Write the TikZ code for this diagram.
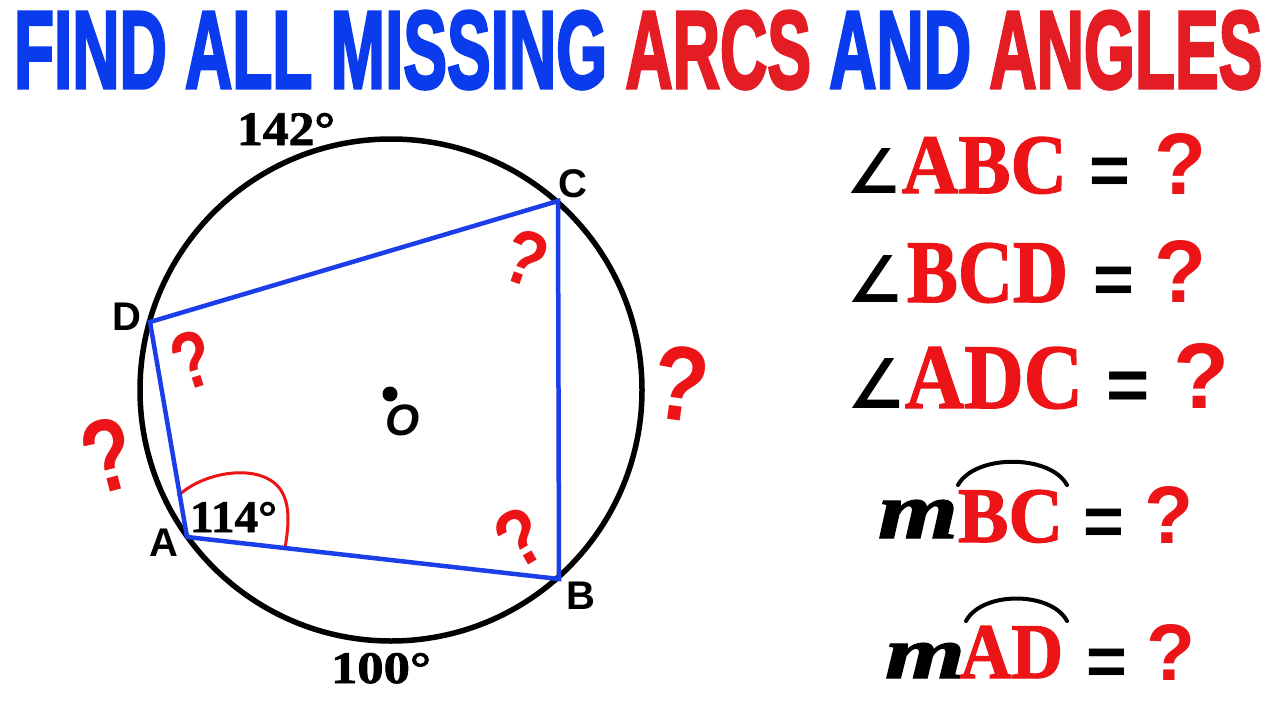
\documentclass[tikz,border=0pt]{standalone}
\usepackage{fontspec}
\usepackage{graphicx}
\setmainfont{Liberation Serif}
\newfontfamily\lsans{Liberation Sans}
\newfontfamily\lserif{Liberation Serif}
\newfontfamily\lserifh{Liberation Serif}[FakeBold=1.5]
\newfontfamily\djv{DejaVu Sans}
\newfontfamily\titlefont{Liberation Sans}[FakeBold=3]
\definecolor{tblue}{RGB}{10,60,238}
\definecolor{tred}{RGB}{228,28,36}
\definecolor{qred}{RGB}{236,20,22}
\definecolor{lblue}{RGB}{28,62,232}
\newcommand{\fitto}[3]{\resizebox{#1pt}{#2pt}{#3}}
\begin{document}
\begin{tikzpicture}[x=1pt,y=-1pt,
  txt/.style={inner sep=0pt, outer sep=0pt, anchor=north west},
  eqs/.style={inner sep=0pt, outer sep=0pt, anchor=north, font=\lsans\bfseries},
  lbl/.style={inner sep=0pt, outer sep=0pt, anchor=center, font=\lsans\bfseries\fontsize{40}{40}\selectfont},
  qmark/.style={inner sep=0pt, outer sep=0pt, anchor=center, text=qred, font=\lsans\bfseries},
  redword/.style={inner sep=0pt, outer sep=0pt, anchor=north west, text=qred, font=\lserifh\bfseries},
  quad/.style={draw=lblue, line width=4.5pt},
  overarc/.style={draw=black, line width=4pt, line cap=round}]
\fill[white] (0,0) rectangle (1280,720);
\useasboundingbox (0,0) rectangle (1280,720);

% title
\node[txt] (title) at (14,11) {\fitto{1248}{77}{\titlefont\bfseries\color{tblue}FIND ALL MISSING \color{tred}ARCS \color{tblue}AND \color{tred}ANGLES}};

% circle
\coordinate (O) at (391,390);
\draw[line width=5.5pt] (O) circle[radius=251];
\fill (390,394) circle[radius=7.5];
\node[inner sep=0pt, anchor=center, font=\lsans\bfseries\itshape\fontsize{44}{44}\selectfont] (Olabel) at (403,420) {O};

% quadrilateral
\coordinate (A) at (187,537);
\coordinate (B) at (559,579);
\coordinate (C) at (558,201);
\coordinate (D) at (150,322);

% angle mark at A
\draw[draw=qred, line width=3pt] (178,496) .. controls (205,470) and (265,462) .. (282,492) .. controls (291,508) and (288,530) .. (285,548);

\draw[quad] (A) -- (B) -- (C) -- (D) -- cycle;

% vertex labels
\node[lbl] (lA) at (164,543) {A};
\node[lbl] (lB) at (581,596) {B};
\node[lbl] (lC) at (573,184) {C};
\node[lbl] (lD) at (127,317) {D};

% arc / angle values
\node[txt] (v142) at (237,113) {\fitto{98}{32}{\lserifh\bfseries 142°}};
\node[txt] (v114) at (190,502) {\fitto{87}{30}{\lserifh\bfseries 114°}};
\node[txt] (v100) at (331,653) {\fitto{100}{30}{\lserifh\bfseries 100°}};

% question marks on the figure
\node[qmark, rotate=-20] (qC) at (526,258) {\fitto{41}{54}{?}};
\node[qmark, rotate=30] (qB) at (520,537) {\fitto{43}{56}{?}};
\node[qmark, rotate=18] (qD) at (192,360) {\fitto{39}{56}{?}};
\node[qmark, rotate=15] (qL) at (108,455) {\fitto{50}{72}{?}};
\node[qmark, rotate=-8] (qR) at (681,384) {\fitto{55}{74}{?}};

% right column
\node[txt] (ang1) at (846,148) {\fitto{54}{45}{\djv\bfseries ∠}};
\node[redword] (w1) at (902,137) {\fitto{165}{56}{ABC}};
\node[eqs, font=\lsans\bfseries\fontsize{70}{70}\selectfont] (e1) at (1110,158) {=};
\node[txt, text=qred] (q1) at (1154,133) {\fitto{52}{61}{\lsans\bfseries ?}};

\node[txt] (ang2) at (847,255) {\fitto{55}{47}{\djv\bfseries ∠}};
\node[redword] (w2) at (907,243) {\fitto{161}{59}{BCD}};
\node[eqs, font=\lsans\bfseries\fontsize{70}{70}\selectfont] (e2) at (1114,267) {=};
\node[txt, text=qred] (q2) at (1154,240) {\fitto{52}{62}{\lsans\bfseries ?}};

\node[txt] (ang3) at (847,358) {\fitto{57}{50}{\djv\bfseries ∠}};
\node[redword] (w3) at (905,347) {\fitto{178}{61}{ADC}};
\node[eqs, font=\lsans\bfseries\fontsize{74}{74}\selectfont] (e3) at (1128,372) {=};
\node[txt, text=qred] (q3) at (1173,343) {\fitto{56}{65}{\lsans\bfseries ?}};

\node[txt] (m4) at (878,500) {\fitto{80}{38}{\lserifh\bfseries\itshape m}};
\node[redword] (w4) at (958,490) {\fitto{105}{52}{BC}};
\draw[overarc] (958,485) .. controls (975,454) and (1050,454) .. (1067,485);
\node[eqs, font=\lsans\bfseries\fontsize{70}{70}\selectfont] (e4) at (1104,509) {=};
\node[txt, text=qred] (q4) at (1144,486) {\fitto{49}{57}{\lsans\bfseries ?}};

\node[txt] (m5) at (885,643) {\fitto{80}{35}{\lserifh\bfseries\itshape m}};
\node[redword] (w5) at (960,626) {\fitto{103}{52}{AD}};
\draw[overarc] (966,621) .. controls (982,591) and (1051,591) .. (1067,621);
\node[eqs, font=\lsans\bfseries\fontsize{70}{70}\selectfont] (e5) at (1107,649) {=};
\node[txt, text=qred] (q5) at (1146,624) {\fitto{49}{56}{\lsans\bfseries ?}};
\end{tikzpicture}
\end{document}
